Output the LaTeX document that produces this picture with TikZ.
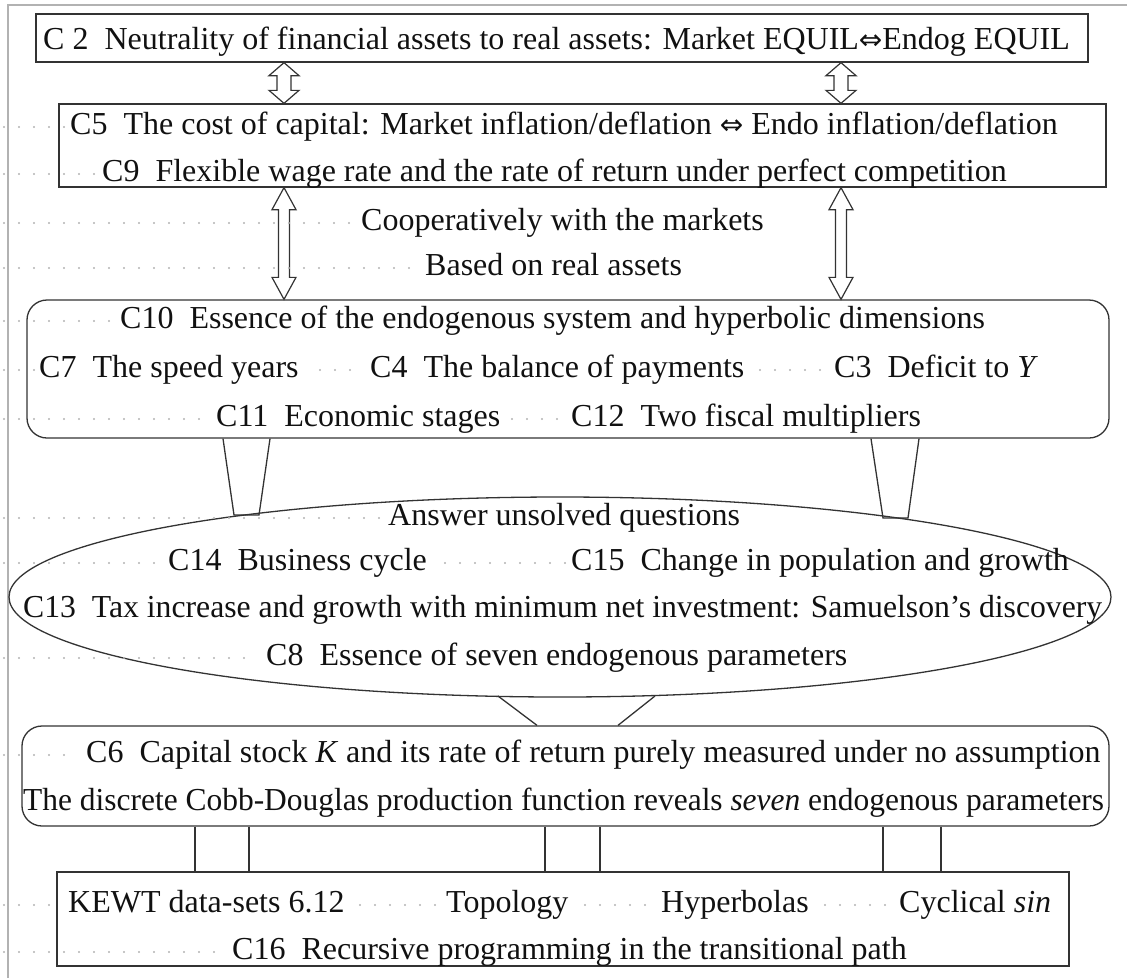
\documentclass[tikz,border=0pt]{standalone}
\usepackage{fontspec}
\setmainfont{Liberation Serif}
\newfontfamily\symf{DejaVu Sans}
\usetikzlibrary{shapes.geometric,calc}
\definecolor{linec}{HTML}{333333}
\definecolor{txtc}{HTML}{111111}
\newcommand\gap{\hspace{0.5em}}
\newcommand\lr{{\symf\fontsize{28}{34}\selectfont ⇔}}
\newsavebox\fitbox
\newlength\fitlen
\newcommand\fitx[2]{\sbox\fitbox{#2}\setlength\fitlen{\wd\fitbox}\scalebox{\fpeval{(#1)/\fitlen}}[1]{\usebox\fitbox}}
\tikzset{
  box/.style={draw=linec, line width=1.3pt, inner sep=0pt},
  rbox/.style={box, rounded corners=20pt},
  txt/.style={inner sep=0pt, anchor=base west, text=txtc, font=\fontsize{32}{38}\selectfont},
  leadsty/.style={draw=gray!60, line width=2.2pt, line cap=round, dash pattern=on 0pt off 15pt},
  conn/.style={draw=linec, line width=1.3pt},
  dblarrow/.style={draw=linec, line width=1.2pt, fill=white, line join=miter},
  framesty/.style={draw=gray!60, line width=1.5pt},
}
\newcommand\tline[4]{\node[txt] (#1) at (#2,{#3+10.6}) {#4};}
\newcommand\tlinefit[5]{\node[txt] (#1) at (#2,{#3+10.6}) {\fitx{#4}{#5}};}
\newcommand\dotrun[3]{\draw[leadsty] (#1,{#3+3}) -- (#2,{#3+3});}
\newcommand\dblarr[5]{%
  \draw[dblarrow] (#1) -- ++(#3,#5) -- ++({#4-#3},0) -- ($(#2)+(#4,-#5)$) -- ++({#3-#4},0)
   -- (#2) -- ++(-#3,-#5) -- ++({#3-#4},0) -- ($(#1)+(-#4,#5)$) -- ++({#4-#3},0) -- cycle;}
\begin{document}
\begin{tikzpicture}[x=1pt,y=-1pt]
\useasboundingbox (0,0) rectangle (1127,978);
\draw[framesty] (8,978) -- (8,5) -- (1127,5);

% boxes
\node[box, minimum width=1052pt, minimum height=48pt] (b1) at (562,38) {};
\node[box, minimum width=1047pt, minimum height=83pt] (b2) at (582.5,145.5) {};
\node[rbox, minimum width=1082pt, minimum height=138pt] (b3) at (568,369) {};
\node[box, ellipse, minimum width=1102pt, minimum height=200pt] (ell) at (560,597) {};
\node[rbox, minimum width=1087pt, minimum height=100pt] (b4) at (565.5,776) {};
\node[box, minimum width=1012pt, minimum height=94pt] (b5) at (563,919) {};

% double arrows
\coordinate (a1t) at (284,0 |- b1.south);
\coordinate (a1b) at (284,0 |- b2.north);
\coordinate (a2t) at (841,0 |- b1.south);
\coordinate (a2b) at (841,0 |- b2.north);
\coordinate (a3t) at (284,0 |- b2.south);
\coordinate (a3b) at (284,0 |- b3.north);
\coordinate (a4t) at (841,0 |- b2.south);
\coordinate (a4b) at (841,0 |- b3.north);
\dblarr{a1t}{a1b}{15}{7}{13}
\dblarr{a2t}{a2b}{15}{7}{13}
\dblarr{a3t}{a3b}{12}{5.5}{22}
\dblarr{a4t}{a4b}{12}{5.5}{22}

% trapezoids from C10 box to ellipse
\draw[conn] (223,0 |- b3.south) -- (234,515) -- (259,515) -- (270,0 |- b3.south);
\draw[conn] (871,0 |- b3.south) -- (883,518) -- (908,518) -- (919,0 |- b3.south);
% V from ellipse to C6 box
\draw[conn] (498,696) -- (537,0 |- b4.north);
\draw[conn] (655,696) -- (618,0 |- b4.north);
% connectors to bottom box
\foreach \xx in {195,249,545,600,883,941}{
  \draw[conn] (\xx,0 |- b4.south) -- (\xx,0 |- b5.north);
}

% leader dots
\dotrun{4}{64}{124}
\dotrun{4}{96}{171}
\dotrun{4}{350}{220}
\dotrun{4}{415}{265}
\dotrun{4}{110}{318}
\dotrun{4}{34}{367}
\dotrun{320}{362}{367}
\dotrun{760}{826}{367}
\dotrun{4}{208}{416}
\dotrun{512}{562}{416}
\dotrun{4}{380}{515}
\dotrun{4}{160}{560}
\dotrun{445}{565}{560}
\dotrun{4}{258}{655}
\dotrun{4}{78}{752}
\dotrun{4}{60}{902}
\dotrun{360}{438}{902}
\dotrun{585}{655}{902}
\dotrun{825}{892}{902}
\dotrun{4}{225}{949}

% text
\tline{t1}{43}{39}{C 2\gap Neutrality of financial assets to real assets: Market EQUIL\lr Endog EQUIL}
\tline{t2}{70}{124}{C5\gap The cost of capital: Market inflation/deflation \lr\ Endo inflation/deflation}
\tline{t3}{102}{171}{C9\gap Flexible wage rate and the rate of return under perfect competition}
\tline{t4}{361}{220}{Cooperatively with the markets}
\tline{t5}{425}{265}{Based on real assets}
\tline{t6}{120}{318}{C10\gap Essence of the endogenous system and hyperbolic dimensions}
\tline{t7a}{39}{367}{C7\gap The speed years}
\tline{t7b}{370}{367}{C4\gap The balance of payments}
\tline{t7c}{834}{367}{C3\gap Deficit to \textit{Y}}
\tline{t8a}{216}{416}{C11\gap Economic stages}
\tline{t8b}{571}{416}{C12\gap Two fiscal multipliers}
\tline{t9}{388}{515}{Answer unsolved questions}
\tline{t10a}{168}{560}{C14\gap Business cycle}
\tline{t10b}{571}{560}{C15\gap Change in population and growth}
\tlinefit{t11}{23}{607}{1079}{C13\gap Tax increase and growth with minimum net investment: Samuelson’s discovery}
\tline{t12}{266}{655}{C8\gap Essence of seven endogenous parameters}
\tline{t13}{86}{752}{C6\gap Capital stock \textit{K} and its rate of return purely measured under no assumption}
\tlinefit{t14}{23}{800}{1081}{The discrete Cobb-Douglas production function reveals \textit{seven} endogenous parameters}
\tline{t15a}{68}{902}{KEWT data-sets 6.12}
\tline{t15b}{446}{902}{Topology}
\tline{t15c}{661}{902}{Hyperbolas}
\tline{t15d}{899}{902}{Cyclical \textit{sin}}
\tline{t16}{232}{949}{C16\gap Recursive programming in the transitional path}
\end{tikzpicture}
\end{document}
